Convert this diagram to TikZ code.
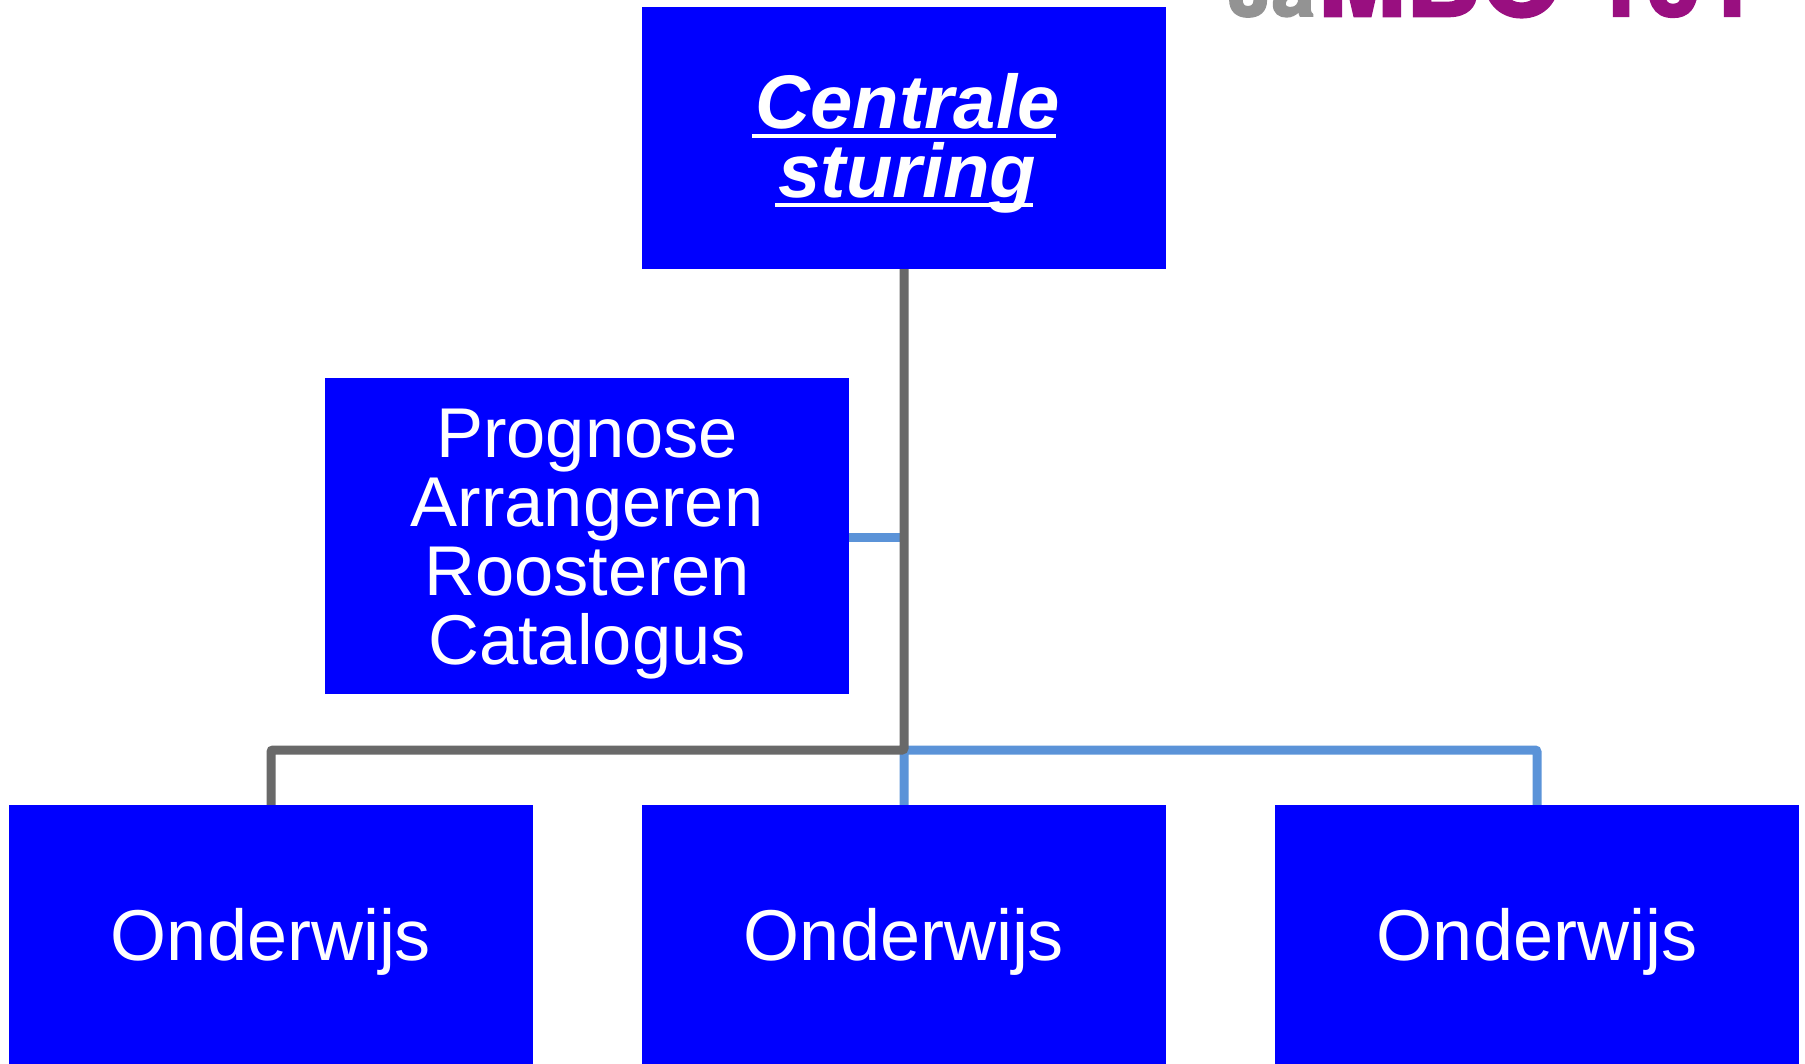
\documentclass[tikz,border=0pt]{standalone}
\usepackage{fontspec}
\usetikzlibrary{calc}
\setmainfont{Liberation Sans}
\newfontfamily\logofont[FakeBold=2.5]{TeX Gyre Heros}
\definecolor{boxblue}{HTML}{0000FF}
\definecolor{lineGrey}{HTML}{696969}
\definecolor{lineBlue}{HTML}{5B93D8}
\definecolor{logoPurple}{HTML}{990F80}
\definecolor{logoGrey}{HTML}{939393}
\newcommand\ulx[1]{\setbox0\hbox{#1}\rlap{\kern3.5pt\copy0}\rule[-10pt]{\wd0}{4pt}}
\tikzset{
  bluebox/.style={fill=boxblue,draw=none,inner sep=0pt,minimum width=524pt},
  boxtext/.style={text=white,inner sep=0pt,align=center},
  wordtext/.style={boxtext,font=\fontsize{72}{69}\selectfont},
  listtext/.style={boxtext,font=\fontsize{70.5}{69}\selectfont},
  headtext/.style={boxtext,font=\fontsize{76}{69}\bfseries\itshape\selectfont},
  logotext/.style={anchor=base west,inner sep=0pt,font=\logofont\bfseries},
  conn/.style={line width=9pt,rounded corners=2pt},
  greyconn/.style={conn,draw=lineGrey},
  blueconn/.style={conn,draw=lineBlue},
}
\begin{document}
\begin{tikzpicture}[x=1pt,y=-1pt]
\useasboundingbox (0,0) rectangle (1805,1064);
\node[logotext,text=logoGrey] (logoa) at (1228,16) {\fontsize{78}{78}\selectfont Ja};
\node[logotext,text=logoPurple] (logob) at (1318,16) {\fontsize{105}{105}\selectfont MBO};
\node[logotext,text=logoPurple] (logoc) at (1590,16) {\fontsize{100}{100}\selectfont 101};
\node[bluebox,minimum height=262pt] (top) at (904,138) {};
\node[bluebox,minimum height=316pt] (mid) at (587,536) {};
\node[bluebox,minimum height=259pt] (b1) at (271,934.5) {};
\node[bluebox,minimum height=259pt] (b2) at (904,934.5) {};
\node[bluebox,minimum height=259pt] (b3) at (1537,934.5) {};
\node[headtext] (toptext) at ($(top)+(0,5)$) {\ulx{Centrale}\\\ulx{sturing}};
\node[listtext] (midtext) at ($(mid)+(0,8.5)$) {Prognose\\Arrangeren\\Roosteren\\Catalogus};
\node[wordtext] (b1text) at ($(b1)+(0,7)$) {Onderwijs};
\node[wordtext] (b2text) at ($(b2)+(0,7)$) {Onderwijs};
\node[wordtext] (b3text) at ($(b3)+(0,7)$) {Onderwijs};
\coordinate (tap) at (904,537);
\coordinate (hub) at (904,750);
\draw[blueconn] (mid.east |- tap) -- (tap);
\draw[blueconn] (b2.north) -- (hub) -| (b3.north);
\draw[greyconn] (top.south) -- (hub) -| (b1.north);
\end{tikzpicture}
\end{document}
